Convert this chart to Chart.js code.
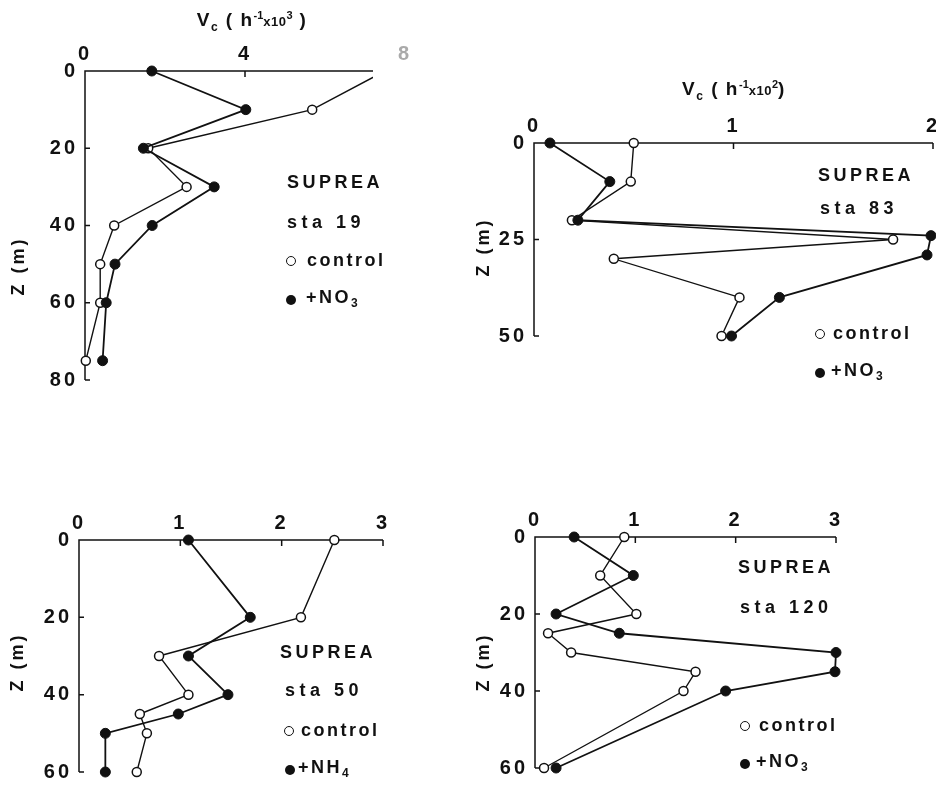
<!DOCTYPE html>
<html lang="en">
<head>
<meta charset="UTF-8">
<title>SUPREA - Vc depth profiles</title>
<script src="https://cdn.jsdelivr.net/npm/chart.js"></script>
<style>
    html, body {
        margin: 0;
        padding: 0;
        width: 936px;
        height: 788px;
        overflow: hidden;
        background: #fff;
    }
    body {
        position: relative;
        font-family: "Liberation Sans", Arial, sans-serif;
        color: #111;
    }
    canvas {
        position: absolute;
    }
    .lbl {
        position: absolute;
        font-size: 18px;
        font-weight: bold;
        line-height: 20px;
        letter-spacing: 3.5px;
        white-space: nowrap;
        transform: translateY(-50%);
    }
    .lbl sub { font-size: 12px; vertical-align: -4px; letter-spacing: 0; }
    .sta { letter-spacing: 4.5px; }
    .leg { letter-spacing: 2.5px; }
    .ztitle {
        position: absolute;
        font-size: 18px;
        font-weight: bold;
        letter-spacing: 3px;
        white-space: nowrap;
        transform: translate(-50%, -50%) rotate(-90deg);
    }
    .xtitle {
        position: absolute;
        font-size: 19px;
        font-weight: bold;
        letter-spacing: 1.5px;
        white-space: nowrap;
        transform: translate(-50%, -50%);
    }
    .xtitle sub { font-size: 12px; vertical-align: -5px; }
    .xtitle sup { font-size: 11px; vertical-align: 7px; letter-spacing: 0; }
    .xtitle small { font-size: 13px; letter-spacing: 0.5px; }
    .dot, .ring {
        position: absolute;
        width: 10px;
        height: 10px;
        border-radius: 50%;
        box-sizing: border-box;
        transform: translate(-50%, -50%);
    }
    .dot { background: #111; }
    .ring { border: 1.5px solid #111; background: #fff; }
</style>
</head>
<body>
    <canvas id="sta19"></canvas>
    <canvas id="sta83"></canvas>
    <canvas id="sta50"></canvas>
    <canvas id="sta120"></canvas>

    <div class="xtitle" style="left:252px; top:21px;">V<sub>c</sub> ( h<sup>-1</sup><small>x10</small><sup>3</sup> )</div>
    <div class="xtitle" style="left:734px; top:90px;">V<sub>c</sub> ( h<sup>-1</sup><small>x10</small><sup>2</sup>)</div>

    <div class="ztitle" style="left:18px; top:266px;">Z (m)</div>
    <div class="ztitle" style="left:483px; top:247px;">Z (m)</div>
    <div class="ztitle" style="left:17px; top:662px;">Z (m)</div>
    <div class="ztitle" style="left:483px; top:662px;">Z (m)</div>

    <!-- sta 19 -->
    <div class="lbl" style="left:287px; top:182px;">SUPREA</div>
    <div class="lbl sta" style="left:287px; top:222px;">sta 19</div>
    <div class="ring" style="left:291px; top:261px;"></div>
    <div class="lbl leg" style="left:307px; top:260px;">control</div>
    <div class="dot" style="left:291px; top:300px;"></div>
    <div class="lbl leg" style="left:306px; top:300px;">+NO<sub>3</sub></div>

    <!-- sta 83 -->
    <div class="lbl" style="left:818px; top:175px;">SUPREA</div>
    <div class="lbl sta" style="left:820px; top:208px;">sta 83</div>
    <div class="ring" style="left:820px; top:334px;"></div>
    <div class="lbl leg" style="left:833px; top:333px;">control</div>
    <div class="dot" style="left:820px; top:373px;"></div>
    <div class="lbl leg" style="left:831px; top:373px;">+NO<sub>3</sub></div>

    <!-- sta 50 -->
    <div class="lbl" style="left:280px; top:652px;">SUPREA</div>
    <div class="lbl sta" style="left:285px; top:690px;">sta 50</div>
    <div class="ring" style="left:289px; top:731px;"></div>
    <div class="lbl leg" style="left:301px; top:730px;">control</div>
    <div class="dot" style="left:290px; top:770px;"></div>
    <div class="lbl leg" style="left:298px; top:770px;">+NH<sub>4</sub></div>

    <!-- sta 120 -->
    <div class="lbl" style="left:738px; top:567px;">SUPREA</div>
    <div class="lbl sta" style="left:740px; top:607px;">sta 120</div>
    <div class="ring" style="left:745px; top:726px;"></div>
    <div class="lbl leg" style="left:759px; top:725px;">control</div>
    <div class="dot" style="left:745px; top:764px;"></div>
    <div class="lbl leg" style="left:756px; top:764px;">+NO<sub>3</sub></div>

<script>
    // sta 19 (Vc in h-1 x 10^3)
    const depth19 = [0, 10, 20, 30, 40, 50, 60, 75];
    const control19 = [7.5, 5.68, 1.58, 2.54, 0.73, 0.38, 0.38, 0.02];
    const nitrate19 = [1.67, 4.02, 1.46, 3.23, 1.68, 0.75, 0.53, 0.44];
    const xTicks19 = [0, 4, 8];
    const yTicks19 = [0, 20, 40, 60, 80];

    // sta 83 (Vc in h-1 x 10^2)
    const depth83Control = [0, 10, 20, 25, 30, 40, 50];
    const control83 = [0.50, 0.485, 0.19, 1.80, 0.40, 1.03, 0.94];
    const depth83Nitrate = [0, 10, 20, 24, 29, 40, 50];
    const nitrate83 = [0.08, 0.38, 0.22, 1.99, 1.97, 1.23, 0.99];
    const xTicks83 = [0, 1, 2];
    const yTicks83 = [0, 25, 50];

    // sta 50
    const depth50 = [0, 20, 30, 40, 45, 50, 60];
    const control50 = [2.52, 2.19, 0.79, 1.08, 0.60, 0.67, 0.57];
    const ammonium50 = [1.08, 1.69, 1.08, 1.47, 0.98, 0.26, 0.26];
    const xTicks50 = [0, 1, 2, 3];
    const yTicks50 = [0, 20, 40, 60];

    // sta 120
    const depth120 = [0, 10, 20, 25, 30, 35, 40, 60];
    const control120 = [0.89, 0.65, 1.01, 0.13, 0.36, 1.60, 1.48, 0.09];
    const nitrate120 = [0.39, 0.98, 0.21, 0.84, 3.00, 2.99, 1.90, 0.21];
    const xTicks120 = [0, 1, 2, 3];
    const yTicks120 = [0, 20, 40, 60];

    const INK = '#111';
    const Y_AXIS_W = 70;
    const X_AXIS_H = 45;
    const PAD_R = 20;
    const PAD_B = 16;

    Chart.defaults.font.family = '"Liberation Sans", Arial, sans-serif';

    function pts(values, depths) {
        return values.map((v, i) => ({ x: v, y: depths[i] }));
    }

    // draws the open frame (top + left spines only) with inward ticks
    const framePlugin = {
        id: 'frame',
        beforeDraw(chart) {
            chart.ctx.letterSpacing = '3px';
        },
        beforeDatasetsDraw(chart, args, opts) {
            const { ctx, chartArea: a, scales: { x, y } } = chart;
            const xEnd = opts.xEnd != null ? opts.xEnd : x.max;
            const xEndPx = x.getPixelForValue(xEnd);
            ctx.save();
            ctx.strokeStyle = INK;
            ctx.lineWidth = 1.5;
            ctx.beginPath();
            ctx.moveTo(xEndPx, a.top);
            ctx.lineTo(a.left, a.top);
            ctx.lineTo(a.left, a.bottom);
            x.ticks.forEach(t => {
                if (t.value > 0 && t.value <= xEnd) {
                    const px = x.getPixelForValue(t.value);
                    ctx.moveTo(px, a.top);
                    ctx.lineTo(px, a.top + 6);
                }
            });
            y.ticks.forEach(t => {
                if (t.value > 0) {
                    const py = y.getPixelForValue(t.value);
                    ctx.moveTo(a.left, py);
                    ctx.lineTo(a.left + 5, py);
                }
            });
            ctx.stroke();
            ctx.restore();
        },
        afterDraw(chart) {
            chart.ctx.letterSpacing = '0px';
        }
    };

    function makePanel(id, area, xMax, yMax, xTicks, yTicks, control, treated, xEnd) {
        const canvas = document.getElementById(id);
        const left = area.left - Y_AXIS_W;
        const top = area.top - X_AXIS_H;
        canvas.width = area.right + PAD_R - left;
        canvas.height = area.bottom + PAD_B - top;
        canvas.style.left = left + 'px';
        canvas.style.top = top + 'px';

        const end = xEnd != null ? xEnd : xMax;
        const clipRight = -(area.right - area.left) * (xMax - end) / xMax;

        return new Chart(canvas, {
            type: 'scatter',
            data: {
                datasets: [
                    {
                        label: 'control',
                        data: control,
                        showLine: true,
                        borderColor: INK,
                        borderWidth: 1.4,
                        pointRadius: 4.5,
                        pointBackgroundColor: '#fff',
                        pointBorderColor: INK,
                        pointBorderWidth: 1.5,
                        clip: { left: 8, top: 8, right: clipRight || 8, bottom: 8 },
                        order: 2
                    },
                    {
                        label: 'treated',
                        data: treated,
                        showLine: true,
                        borderColor: INK,
                        borderWidth: 1.8,
                        pointRadius: 5,
                        pointBackgroundColor: INK,
                        pointBorderColor: INK,
                        pointBorderWidth: 1,
                        clip: 8,
                        order: 1
                    }
                ]
            },
            options: {
                responsive: false,
                maintainAspectRatio: false,
                animation: false,
                events: [],
                layout: { padding: { left: 0, top: 0, right: PAD_R, bottom: PAD_B } },
                plugins: {
                    legend: { display: false },
                    tooltip: { enabled: false },
                    frame: { xEnd: end }
                },
                scales: {
                    x: {
                        type: 'linear',
                        position: 'top',
                        min: 0,
                        max: xMax,
                        grid: { display: false, drawTicks: false },
                        border: { display: false },
                        ticks: {
                            padding: 5,
                            autoSkip: false,
                            maxRotation: 0,
                            font: { size: 20, weight: 'bold' },
                            color: ctx => (ctx.tick && ctx.tick.value > end) ? '#aaa' : INK,
                            callback: v => String(v)
                        },
                        afterBuildTicks: s => { s.ticks = xTicks.map(v => ({ value: v })); },
                        afterFit: s => { s.height = X_AXIS_H; }
                    },
                    y: {
                        type: 'linear',
                        reverse: true,
                        min: 0,
                        max: yMax,
                        grid: { display: false, drawTicks: false },
                        border: { display: false },
                        ticks: {
                            padding: 7,
                            autoSkip: false,
                            font: { size: 20, weight: 'bold' },
                            color: INK,
                            callback: v => String(v)
                        },
                        afterBuildTicks: s => { s.ticks = yTicks.map(v => ({ value: v })); },
                        afterFit: s => { s.width = Y_AXIS_W; }
                    }
                }
            },
            plugins: [framePlugin]
        });
    }

    makePanel('sta19', { left: 85, top: 71, right: 405, bottom: 383 }, 8, 80,
        xTicks19, yTicks19, pts(control19, depth19), pts(nitrate19, depth19), 7.2);

    makePanel('sta83', { left: 534, top: 143, right: 933, bottom: 339 }, 2, 50,
        xTicks83, yTicks83, pts(control83, depth83Control), pts(nitrate83, depth83Nitrate));

    makePanel('sta50', { left: 79, top: 540, right: 383, bottom: 775 }, 3, 60,
        xTicks50, yTicks50, pts(control50, depth50), pts(ammonium50, depth50));

    makePanel('sta120', { left: 535, top: 537, right: 836, bottom: 771 }, 3, 60,
        xTicks120, yTicks120, pts(control120, depth120), pts(nitrate120, depth120));
</script>
</body>
</html>
